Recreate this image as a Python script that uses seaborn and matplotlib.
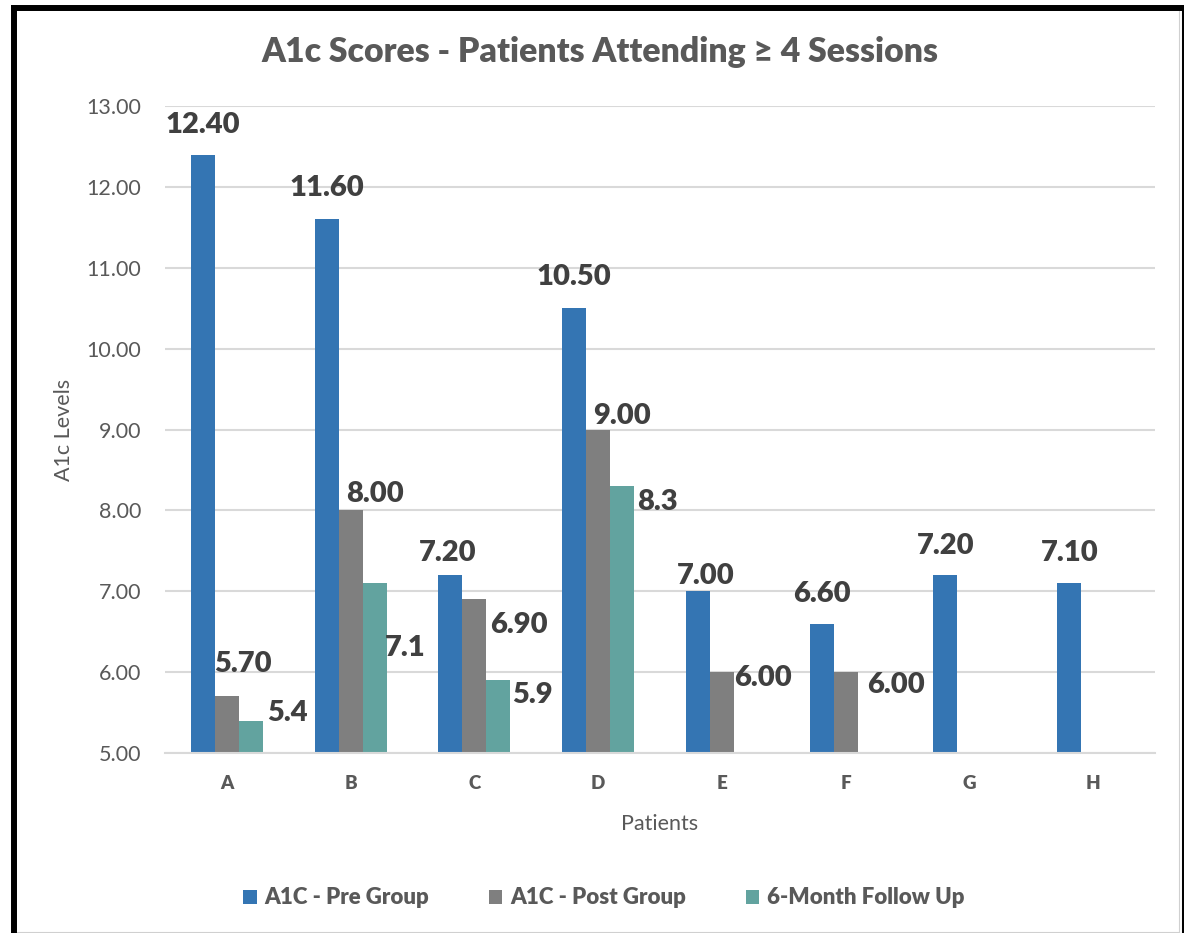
import numpy as np
import pandas as pd
import matplotlib
matplotlib.use("Agg")
import matplotlib.pyplot as plt
from matplotlib.lines import Line2D
import seaborn as sns

# ---- data ----
patients = ["A", "B", "C", "D", "E", "F", "G", "H"]
series_names = ["A1C - Pre Group", "A1C - Post Group", "6-Month Follow Up"]
pre_group = [12.40, 11.60, 7.20, 10.50, 7.00, 6.60, 7.20, 7.10]
post_group = [5.70, 8.00, 6.90, 9.00, 6.00, 6.00, np.nan, np.nan]
follow_up = [5.4, 7.1, 5.9, 8.3, np.nan, np.nan, np.nan, np.nan]
label_formats = ["{:.2f}", "{:.2f}", "{:.1f}"]
y_ticks = [5, 6, 7, 8, 9, 10, 11, 12, 13]

# ---- styling ----
colors = ["#3475B3", "#7F7F7F", "#62A39F"]
# label offsets (pixels) from the top-centre of each bar, per series
pre_offsets = [(0, 30), (0, 31), (-3, 22), (0, 31), (8, 15), (0, 30), (0, 29), (1, 30)]
post_offsets = [(16, 32), (24, 16), (45, -26), (24, 14), (41, -6), (50, -13), (0, 0), (0, 0)]
follow_offsets = [(37, 8), (31, -65), (34, -15), (35, -16), (0, 0), (0, 0), (0, 0), (0, 0)]
offsets = [pre_offsets, post_offsets, follow_offsets]

sns.set_theme(style="white")
plt.rcParams["font.family"] = ["Lato", "DejaVu Sans"]

values = [pre_group, post_group, follow_up]
df = pd.DataFrame({
    "Patient": patients * 3,
    "Series": [s for s in series_names for _ in patients],
    "Value": pre_group + post_group + follow_up,
})

W, H, DPI = 1184, 933, 100
fig = plt.figure(figsize=(W / DPI, H / DPI), dpi=DPI)
fig.patch.set_facecolor("white")
ax = fig.add_axes([165 / W, (H - 753) / H, 990 / W, 647 / H])

sns.barplot(data=df, x="Patient", y="Value", hue="Series", order=patients,
            hue_order=series_names, palette=colors, width=0.58,
            linewidth=0, saturation=1, errorbar=None, ax=ax, legend=True)

ax.set_ylim(5, 13)
ax.set_xlim(-0.5, len(patients) - 0.5)
ax.set_yticks(y_ticks)
ax.set_yticklabels([f"{t:.2f}" for t in y_ticks], fontsize=15.5, color="#595959")
ax.tick_params(axis="y", length=0, pad=17)
ax.tick_params(axis="x", length=0, pad=16)
for lab in ax.get_xticklabels():
    lab.set_fontweight("heavy")
    lab.set_fontsize(13.5)
    lab.set_color("#595959")
ax.yaxis.grid(True, color="#D9D9D9", linewidth=1.5)
ax.set_axisbelow(True)
for side in ["top", "right", "left"]:
    ax.spines[side].set_visible(False)
ax.spines["bottom"].set_color("#D9D9D9")
ax.spines["bottom"].set_linewidth(1.5)

ax.set_xlabel("Patients", fontsize=15.5, color="#595959", labelpad=16)
ax.set_ylabel("A1c Levels", fontsize=15.5, color="#595959", labelpad=9)

# value labels on every bar
for j, container in enumerate(ax.containers):
    for bar in container:
        h = bar.get_height()
        if not np.isfinite(h):
            continue
        xc = bar.get_x() + bar.get_width() / 2
        i = int(round(xc))
        dx, dy = offsets[j][i]
        ax.annotate(label_formats[j].format(values[j][i]), (xc, values[j][i]),
                    xytext=(dx, dy), textcoords="offset pixels",
                    ha="center", va="center", fontsize=21, fontweight="heavy",
                    color="#404040")

fig.text(600 / W, 1 - 52 / H, "A1c Scores - Patients Attending \u2265 4 Sessions",
         ha="center", va="center", fontsize=24.3, fontweight="heavy", color="#595959")

leg = ax.legend(loc="center", bbox_to_anchor=(604 / W, 1 - 898 / H),
                bbox_transform=fig.transFigure, ncol=3, frameon=False,
                handlelength=0.6, handleheight=0.6, handletextpad=0.35,
                columnspacing=2.7, prop={"size": 16, "weight": "heavy"})
for t in leg.get_texts():
    t.set_color("#595959")

# frame around the chart
fig.add_artist(Line2D([14 / W, 14 / W], [0, 1 - 5 / H], color="black", lw=4.3,
                      transform=fig.transFigure, solid_capstyle="butt"))
fig.add_artist(Line2D([11 / W, 1], [1 - 8 / H, 1 - 8 / H], color="black", lw=4.3,
                      transform=fig.transFigure, solid_capstyle="butt"))
fig.add_artist(Line2D([1182.5 / W, 1182.5 / W], [0, 1 - 5 / H], color="black", lw=2.2,
                      transform=fig.transFigure, solid_capstyle="butt"))
fig.add_artist(Line2D([1179 / W, 1179 / W], [0, 1 - 11 / H], color="#D0D0D0", lw=0.8,
                      transform=fig.transFigure))
fig.add_artist(Line2D([17 / W, 1179 / W], [1.5 / H, 1.5 / H], color="#D0D0D0", lw=0.8,
                      transform=fig.transFigure))

fig.savefig("out.png", dpi=DPI)
